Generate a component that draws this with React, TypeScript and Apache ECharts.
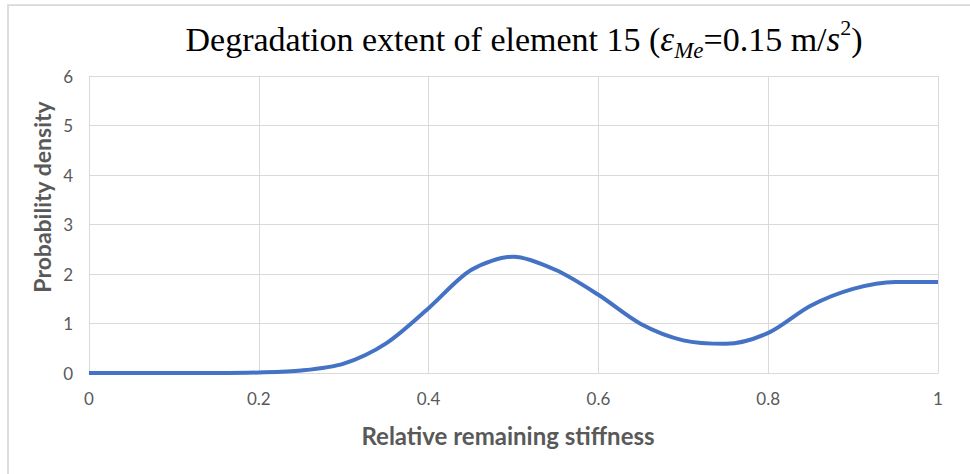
import React, { useEffect, useRef } from "react";
import * as echarts from "echarts";

// Relative remaining stiffness (x) and probability density (y) sampled along the curve
const stiffness = [0, 0.05, 0.1, 0.15, 0.2, 0.25, 0.3, 0.35, 0.4, 0.45, 0.5, 0.55, 0.6, 0.65, 0.7, 0.75, 0.8, 0.85, 0.9, 0.95, 1.0];
const density = [0, 0, 0, 0, 0.01, 0.05, 0.19, 0.6, 1.31, 2.08, 2.35, 2.08, 1.58, 0.99, 0.66, 0.59, 0.81, 1.36, 1.7, 1.84, 1.84];

const xTicks = [0, 0.2, 0.4, 0.6, 0.8, 1];
const yTicks = [0, 1, 2, 3, 4, 5, 6];

const titleText = "Degradation extent of element 15";
const xTitle = "Relative remaining stiffness";
const yTitle = "Probability density";

export default function App() {
  const ref = useRef<HTMLDivElement>(null);

  useEffect(() => {
    if (!ref.current) return;
    const chart = echarts.init(ref.current, null, { renderer: "svg" });
    const grey = "#595959";
    const gridColor = "#d9d9d9";
    const points = stiffness.map((x, i) => [x, density[i]]);

    chart.setOption({
      animation: false,
      backgroundColor: "#ffffff",
      grid: { left: 89, right: 32, top: 76, bottom: 101, containLabel: false },
      xAxis: {
        type: "value",
        min: xTicks[0],
        max: xTicks[xTicks.length - 1],
        interval: 0.2,
        axisLine: { show: true, lineStyle: { color: gridColor, width: 1 } },
        axisTick: { show: false },
        axisLabel: {
          color: grey,
          fontFamily: "Lato",
          fontSize: 17,
          margin: 17,
          formatter: (v: number) => String(+v.toFixed(1)),
        },
        splitLine: { show: true, lineStyle: { color: gridColor, width: 1 } },
      },
      yAxis: {
        type: "value",
        min: yTicks[0],
        max: yTicks[yTicks.length - 1],
        interval: 1,
        axisLine: { show: false },
        axisTick: { show: false },
        axisLabel: { color: grey, fontFamily: "Lato", fontSize: 17, margin: 16 },
        splitLine: { show: true, lineStyle: { color: gridColor, width: 1 } },
      },
      series: [
        {
          type: "line",
          data: points,
          smooth: 0.3,
          showSymbol: false,
          lineStyle: { color: "#4472C4", width: 4 },
        },
      ],
      graphic: [
        {
          type: "rect",
          shape: { x: 8, y: 5, width: 1200, height: 1000 },
          style: { fill: "none", stroke: gridColor, lineWidth: 1.75 },
          silent: true,
        },
        {
          type: "text",
          x: 524,
          y: 39,
          style: {
            text: `{t|${titleText} (}{e|ε}{sub|Me}{t|=0.15 m/}{e|s}{sup|2}{t|)}`,
            align: "center",
            verticalAlign: "middle",
            fill: "#000",
            rich: {
              t: { fontFamily: "Liberation Serif", fontSize: 34, lineHeight: 46, fill: "#000" },
              e: { fontFamily: "Liberation Serif", fontStyle: "italic", fontSize: 35, lineHeight: 46, fill: "#000" },
              sub: { fontFamily: "Liberation Serif", fontStyle: "italic", fontSize: 23, lineHeight: 26, verticalAlign: "bottom", fill: "#000" },
              sup: { fontFamily: "Liberation Serif", fontSize: 22, lineHeight: 30, verticalAlign: "top", fill: "#000" },
            },
          },
        },
        {
          type: "text",
          x: 508,
          y: 435,
          style: {
            text: xTitle,
            align: "center",
            verticalAlign: "middle",
            fill: grey,
            font: "bold 24px Lato",
          },
        },
        {
          type: "text",
          x: 42,
          y: 197,
          rotation: Math.PI / 2,
          style: {
            text: yTitle,
            align: "center",
            verticalAlign: "middle",
            fill: grey,
            font: "bold 23px Lato",
          },
        },
      ],
    });

    return () => chart.dispose();
  }, []);

  return (
    <div
      ref={ref}
      style={{ position: "absolute", left: 0, top: 0, width: 970, height: 474 }}
    />
  );
}
